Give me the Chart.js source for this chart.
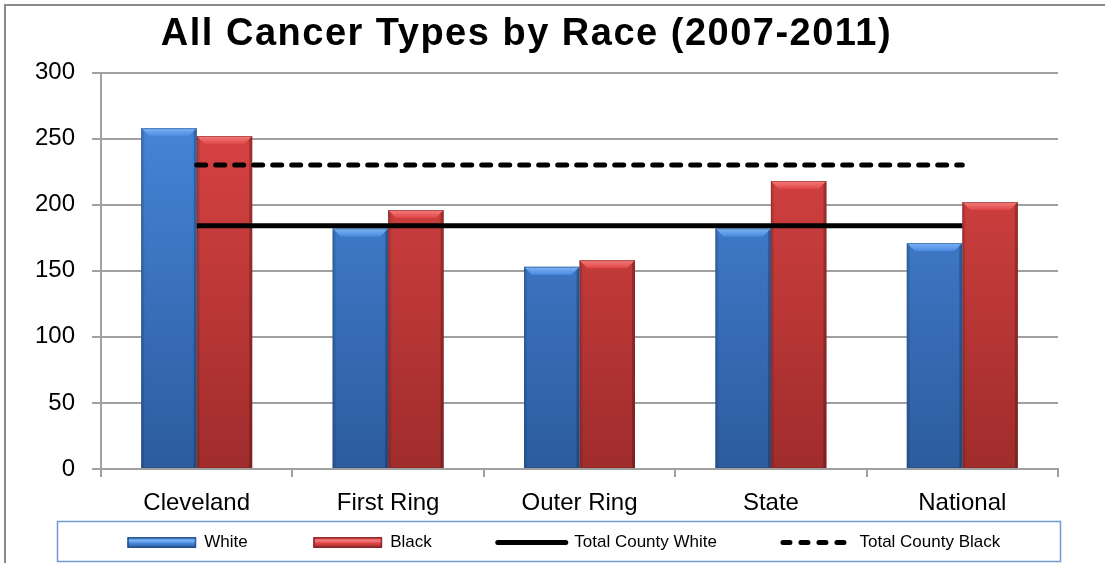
<!DOCTYPE html>
<html>
<head>
<meta charset="utf-8">
<script src="https://cdn.jsdelivr.net/npm/chart.js@4/dist/chart.umd.min.js"></script>
<style>
  html, body { margin: 0; padding: 0; background: #fff; }
  #wrap { width: 1105px; height: 563px; }
</style>
</head>
<body>
<div id="wrap"><canvas id="chart"></canvas></div>
<script>
const categories = ['Cleveland', 'First Ring', 'Outer Ring', 'State', 'National'];
const whiteRates = [258, 182, 153, 182, 171];
const blackRates = [252, 196, 158, 218, 202];
const countyWhite = 184;
const countyBlack = 230;
const yTicks = [0, 50, 100, 150, 200, 250, 300];

const FONT = "'Liberation Sans', Arial, sans-serif";
const GRID = '#a0a0a0';
const LEGEND_GAP = 66;

const tones = {
    White: { top: '#4a8ae0', bottom: '#2c5c9e', bevel: '#7db4f4', edge: '#23497e' },
    Black: { top: '#e04646', bottom: '#a02c2c', bevel: '#f47e7e', edge: '#7e2323' }
};

function barFill(name) {
    return (context) => {
        const area = context.chart.chartArea;
        const tone = tones[name];
        if (!area) return tone.top;
        const g = context.chart.ctx.createLinearGradient(0, area.top, 0, area.bottom);
        g.addColorStop(0, tone.top);
        g.addColorStop(1, tone.bottom);
        return g;
    };
}

// little 3D bevel on top of each bar, like the office chart
const bevelPlugin = {
    id: 'bevel',
    afterDatasetDraw(chart, args) {
        const ds = chart.data.datasets[args.index];
        if (ds.type === 'line') return;
        const tone = tones[ds.label];
        const ctx = chart.ctx;
        args.meta.data.forEach(bar => {
            const l = bar.x - bar.width / 2;
            const r = bar.x + bar.width / 2;
            const t = bar.y;
            const b = bar.base;
            const d = 8;
            ctx.save();
            const g = ctx.createLinearGradient(0, t, 0, t + d);
            g.addColorStop(0, tone.bevel);
            g.addColorStop(1, tone.top);
            ctx.fillStyle = g;
            ctx.beginPath();
            ctx.moveTo(l, t);
            ctx.lineTo(r, t);
            ctx.lineTo(r - d, t + d);
            ctx.lineTo(l + d, t + d);
            ctx.closePath();
            ctx.fill();
            ctx.fillStyle = 'rgba(0,0,0,0.10)';
            ctx.beginPath();
            ctx.moveTo(l, t);
            ctx.lineTo(l + 3, t + 3);
            ctx.lineTo(l + 3, b);
            ctx.lineTo(l, b);
            ctx.closePath();
            ctx.fill();
            ctx.fillStyle = 'rgba(0,0,0,0.22)';
            ctx.beginPath();
            ctx.moveTo(r, t);
            ctx.lineTo(r - 3, t + 3);
            ctx.lineTo(r - 3, b);
            ctx.lineTo(r, b);
            ctx.closePath();
            ctx.fill();
            ctx.strokeStyle = tone.edge;
            ctx.globalAlpha = 0.5;
            ctx.lineWidth = 1;
            ctx.strokeRect(l + 0.5, t + 0.5, r - l - 1, b - t - 1);
            ctx.restore();
        });
    }
};

// frame of the chart, box round the legend, title and legend nudged into place
const framePlugin = {
    id: 'frame',
    afterLayout(chart) {
        const tb = chart.titleBlock;
        tb.left = 0;
        tb.right = 1053;
        if (!tb._spaced) {
            const draw = tb.draw.bind(tb);
            tb.draw = function () {
                chart.ctx.save();
                chart.ctx.letterSpacing = '1.5px';
                draw();
                chart.ctx.restore();
            };
            tb._spaced = true;
        }
        const lg = chart.legend;
        lg.left = 28;
        lg.right = 1100;
        lg.top = 534 - LEGEND_GAP;
    },
    afterDraw(chart) {
        const ctx = chart.ctx;
        ctx.save();
        ctx.strokeStyle = '#8a8a8a';
        ctx.lineWidth = 2;
        ctx.beginPath();
        ctx.moveTo(5, 563);
        ctx.lineTo(5, 5);
        ctx.lineTo(1105, 5);
        ctx.stroke();
        ctx.strokeStyle = '#6f9bd2';
        ctx.lineWidth = 1.5;
        ctx.strokeRect(57.5, 521.5, 1003, 40);
        // bevelled swatches for the two bar series
        chart.legend.legendHitBoxes.slice(0, 2).forEach((hb, i) => {
            const tone = tones[i === 0 ? 'White' : 'Black'];
            const cy = hb.top + hb.height / 2;
            const g = ctx.createLinearGradient(0, cy - 5, 0, cy + 5);
            g.addColorStop(0, tone.top);
            g.addColorStop(0.35, tone.bevel);
            g.addColorStop(0.55, tone.top);
            g.addColorStop(1, tone.bottom);
            ctx.fillStyle = g;
            ctx.fillRect(hb.left, cy - 5, 68, 10);
            ctx.strokeStyle = tone.edge;
            ctx.lineWidth = 1;
            ctx.strokeRect(hb.left + 0.5, cy - 4.5, 67, 9);
        });
        ctx.restore();
    }
};

const legendItems = [
    { text: 'White', fillStyle: '#3f7fd1', strokeStyle: '#244f86', lineWidth: 1, pointStyle: 'rect', lineDash: [], lineCap: 'butt', datasetIndex: 0 },
    { text: 'Black', fillStyle: '#d84343', strokeStyle: '#7e2525', lineWidth: 1, pointStyle: 'rect', lineDash: [], lineCap: 'butt', datasetIndex: 1 },
    { text: 'Total County White', fillStyle: 'rgba(0,0,0,0)', strokeStyle: '#000', lineWidth: 5, pointStyle: 'line', lineDash: [], lineCap: 'round', datasetIndex: 2 },
    { text: 'Total County Black', fillStyle: 'rgba(0,0,0,0)', strokeStyle: '#000', lineWidth: 5, pointStyle: 'line', lineDash: [7, 11], lineCap: 'round', datasetIndex: 3 }
];

new Chart(document.getElementById('chart'), {
    type: 'bar',
    data: {
        labels: categories,
        datasets: [
            { label: 'White', data: whiteRates, backgroundColor: barFill('White'), order: 1 },
            { label: 'Black', data: blackRates, backgroundColor: barFill('Black'), order: 1 },
            {
                type: 'line', label: 'Total County White', data: categories.map(() => countyWhite),
                borderColor: '#000', borderWidth: 5, pointRadius: 0, order: 0
            },
            {
                type: 'line', label: 'Total County Black', data: categories.map(() => countyBlack),
                borderColor: '#000', borderWidth: 5, borderDash: [9, 10], borderCapStyle: 'round',
                pointRadius: 0, order: 0
            }
        ]
    },
    options: {
        responsive: true,
        maintainAspectRatio: false,
        animation: false,
        datasets: { bar: { categoryPercentage: 0.58, barPercentage: 1.0 } },
        layout: { padding: { top: 0, left: 35, right: 47, bottom: 0 } },
        plugins: {
            title: {
                display: true,
                text: 'All Cancer Types by Race (2007-2011)',
                color: '#000',
                font: { family: FONT, size: 38, weight: 'bold' },
                padding: { top: 12, bottom: 15 }
            },
            legend: {
                position: 'bottom',
                maxHeight: 41,
                labels: {
                    usePointStyle: true,
                    pointStyleWidth: 68,
                    boxHeight: 10,
                    padding: LEGEND_GAP,
                    color: '#000',
                    font: { family: FONT, size: 17 },
                    generateLabels: () => legendItems
                }
            },
            tooltip: { enabled: false }
        },
        scales: {
            x: {
                grid: { drawOnChartArea: false, drawTicks: true, tickLength: 8, color: GRID, lineWidth: 2 },
                border: { color: GRID, width: 2 },
                ticks: { color: '#000', font: { family: FONT, size: 24 }, padding: 12 },
                afterFit: (scale) => { scale.height = 53; }
            },
            y: {
                min: 0,
                max: 300,
                afterBuildTicks: (scale) => { scale.ticks = yTicks.map(v => ({ value: v })); },
                grid: { color: GRID, lineWidth: 2, tickLength: 9 },
                border: { color: GRID, width: 2 },
                ticks: { color: '#000', font: { family: FONT, size: 24 }, padding: 17 },
                afterFit: (scale) => { scale.width = 66; }
            }
        }
    },
    plugins: [bevelPlugin, framePlugin]
});
</script>
</body>
</html>
